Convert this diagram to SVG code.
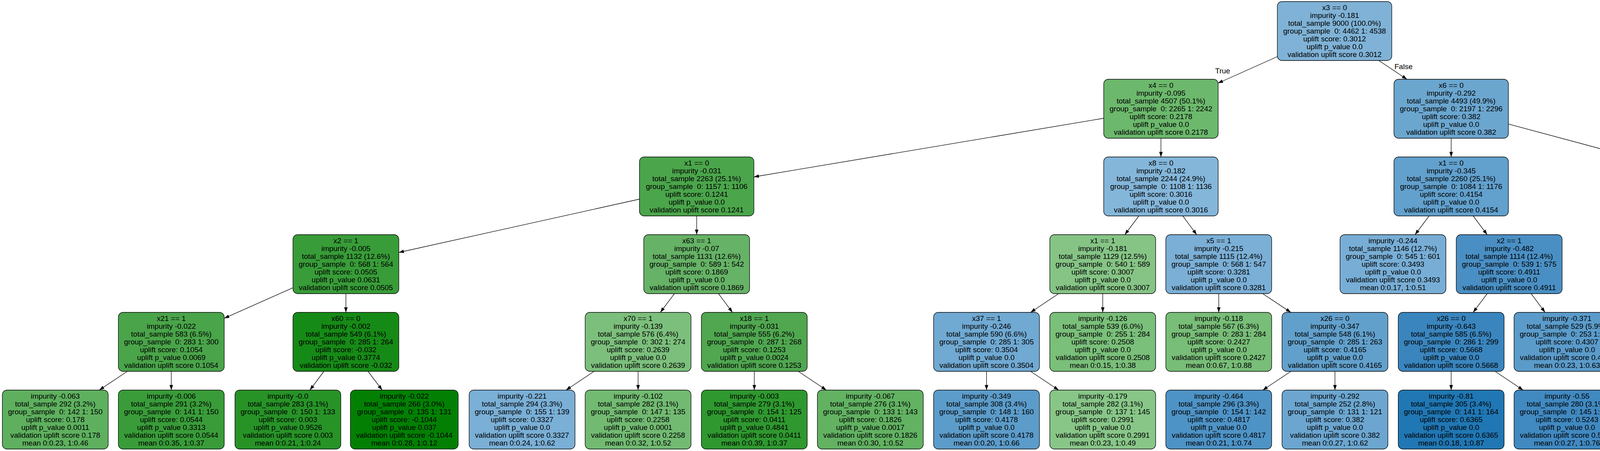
<svg xmlns="http://www.w3.org/2000/svg" width="5343" height="1155" viewBox="0 0 5343 1155">
<defs><marker id="ah" markerUnits="userSpaceOnUse" markerWidth="14" markerHeight="10" refX="13" refY="4.5" orient="auto"><path d="M0,0 L13,4.5 L0,9 Z" fill="#000"/></marker></defs>
<style>
.nd rect{stroke:#000;stroke-width:1.3}
.nd text,.lbl{font-family:"Liberation Sans",Arial,sans-serif;font-size:19px;fill:#000;white-space:pre}
.nd text,.lbl{text-anchor:middle}
.e line{stroke:#000;stroke-width:1.3;marker-end:url(#ah)}
</style>
<rect width="5343" height="1155" fill="#fff"/>
<g id="edges" class="e">
<line x1="3270" y1="145" x2="3118" y2="213"/>
<line x1="3529.7" y1="155" x2="3601.8" y2="203"/>
<line x1="2825" y1="303" x2="1930" y2="453"/>
<line x1="2972" y1="354" x2="2972" y2="402"/>
<line x1="3715" y1="354" x2="3715" y2="402"/>
<line x1="3861.5" y1="317.7" x2="4311.5" y2="438.3"/>
<line x1="1637" y1="510" x2="1021" y2="646.5"/>
<line x1="1783.5" y1="553" x2="1783.5" y2="601"/>
<line x1="2915.5" y1="553" x2="2879.5" y2="601"/>
<line x1="3028" y1="553" x2="3063.5" y2="601"/>
<line x1="3658.5" y1="553" x2="3622.5" y2="601"/>
<line x1="3771.3" y1="553" x2="3807.2" y2="601"/>
<line x1="4458" y1="553" x2="4458" y2="601"/>
<line x1="4604.5" y1="542.8" x2="4769" y2="616.1"/>
<line x1="750" y1="736.8" x2="574" y2="815.2"/>
<line x1="885.5" y1="752" x2="885.5" y2="800"/>
<line x1="1726.6" y1="752" x2="1690.4" y2="800"/>
<line x1="1839.4" y1="752" x2="1875.1" y2="800"/>
<line x1="2710.2" y1="752" x2="2638.3" y2="800"/>
<line x1="2823" y1="752" x2="2823" y2="800"/>
<line x1="3120" y1="752" x2="3120" y2="800"/>
<line x1="3232.4" y1="752" x2="3304.6" y2="800"/>
<line x1="3807.2" y1="752" x2="3771.3" y2="800"/>
<line x1="3919.6" y1="752" x2="3955.4" y2="800"/>
<line x1="4401.6" y1="752" x2="4365.9" y2="800"/>
<line x1="4513.6" y1="752" x2="4549.4" y2="800"/>
<line x1="4904" y1="752" x2="4904" y2="800"/>
<line x1="5017" y1="752" x2="5088.5" y2="800"/>
<line x1="325.9" y1="951" x2="254.1" y2="999"/>
<line x1="438.5" y1="951" x2="438.5" y2="999"/>
<line x1="829.2" y1="951" x2="793.3" y2="999"/>
<line x1="942.2" y1="951" x2="978.3" y2="999"/>
<line x1="1520.9" y1="951" x2="1449.1" y2="999"/>
<line x1="1633.5" y1="951" x2="1633.5" y2="999"/>
<line x1="1931" y1="951" x2="1931" y2="999"/>
<line x1="2043.6" y1="951" x2="2115.4" y2="999"/>
<line x1="2525.5" y1="951" x2="2525.5" y2="999"/>
<line x1="2638.3" y1="951" x2="2710.2" y2="999"/>
<line x1="3304.7" y1="951" x2="3232.8" y2="999"/>
<line x1="3417.5" y1="951" x2="3417.5" y2="999"/>
<line x1="3715" y1="951" x2="3715" y2="999"/>
<line x1="3827.4" y1="951" x2="3899.1" y2="999"/>
<line x1="4493.5" y1="951" x2="4422" y2="999"/>
<line x1="4605.5" y1="951" x2="4605.5" y2="999"/>
<line x1="4904" y1="951" x2="4904" y2="999"/>
<line x1="5016.6" y1="951" x2="5088.4" y2="999"/>
<text class="lbl" x="3130" y="188">True</text>
<text class="lbl" x="3593" y="177">False</text>
</g>
<g id="n0" class="nd" transform="translate(3416.5,4)"><rect x="-146.5" y="0" width="293" height="151" rx="12" fill="#7FB2D6"/><text xml:space="preserve" y="22"><tspan x="0">x3 == 0</tspan><tspan x="0" dy="20">impurity -0.181</tspan><tspan x="0" dy="20">total_sample 9000 (100.0%)</tspan><tspan x="0" dy="20">group_sample  0: 4462 1: 4538</tspan><tspan x="0" dy="20">uplift score: 0.3012</tspan><tspan x="0" dy="20">uplift p_value 0.0</tspan><tspan x="0" dy="20">validation uplift score 0.3012</tspan></text></g>
<g id="n1" class="nd" transform="translate(2972,203)"><rect x="-146.5" y="0" width="293" height="151" rx="12" fill="#6CB86C"/><text xml:space="preserve" y="22"><tspan x="0">x4 == 0</tspan><tspan x="0" dy="20">impurity -0.095</tspan><tspan x="0" dy="20">total_sample 4507 (50.1%)</tspan><tspan x="0" dy="20">group_sample  0: 2265 1: 2242</tspan><tspan x="0" dy="20">uplift score: 0.2178</tspan><tspan x="0" dy="20">uplift p_value 0.0</tspan><tspan x="0" dy="20">validation uplift score 0.2178</tspan></text></g>
<g id="n2" class="nd" transform="translate(3715,203)"><rect x="-146.5" y="0" width="293" height="151" rx="12" fill="#6BA6CF"/><text xml:space="preserve" y="22"><tspan x="0">x6 == 0</tspan><tspan x="0" dy="20">impurity -0.292</tspan><tspan x="0" dy="20">total_sample 4493 (49.9%)</tspan><tspan x="0" dy="20">group_sample  0: 2197 1: 2296</tspan><tspan x="0" dy="20">uplift score: 0.382</tspan><tspan x="0" dy="20">uplift p_value 0.0</tspan><tspan x="0" dy="20">validation uplift score 0.382</tspan></text></g>
<g id="n3" class="nd" transform="translate(1783.5,402)"><rect x="-146.5" y="0" width="293" height="151" rx="12" fill="#4BA54B"/><text xml:space="preserve" y="22"><tspan x="0">x1 == 0</tspan><tspan x="0" dy="20">impurity -0.031</tspan><tspan x="0" dy="20">total_sample 2263 (25.1%)</tspan><tspan x="0" dy="20">group_sample  0: 1157 1: 1106</tspan><tspan x="0" dy="20">uplift score: 0.1241</tspan><tspan x="0" dy="20">uplift p_value 0.0</tspan><tspan x="0" dy="20">validation uplift score 0.1241</tspan></text></g>
<g id="n4" class="nd" transform="translate(2972,402)"><rect x="-146.5" y="0" width="293" height="151" rx="12" fill="#84B6DA"/><text xml:space="preserve" y="22"><tspan x="0">x8 == 0</tspan><tspan x="0" dy="20">impurity -0.182</tspan><tspan x="0" dy="20">total_sample 2244 (24.9%)</tspan><tspan x="0" dy="20">group_sample  0: 1108 1: 1136</tspan><tspan x="0" dy="20">uplift score: 0.3016</tspan><tspan x="0" dy="20">uplift p_value 0.0</tspan><tspan x="0" dy="20">validation uplift score 0.3016</tspan></text></g>
<g id="n5" class="nd" transform="translate(3715,402)"><rect x="-146.5" y="0" width="293" height="151" rx="12" fill="#62A0CD"/><text xml:space="preserve" y="22"><tspan x="0">x1 == 0</tspan><tspan x="0" dy="20">impurity -0.345</tspan><tspan x="0" dy="20">total_sample 2260 (25.1%)</tspan><tspan x="0" dy="20">group_sample  0: 1084 1: 1176</tspan><tspan x="0" dy="20">uplift score: 0.4154</tspan><tspan x="0" dy="20">uplift p_value 0.0</tspan><tspan x="0" dy="20">validation uplift score 0.4154</tspan></text></g>
<g id="n6" class="nd" transform="translate(4458,402)"><rect x="-146.5" y="0" width="293" height="151" rx="12" fill="#72ABD3"/><text xml:space="preserve" y="22"><tspan x="0">x5 == 0</tspan><tspan x="0" dy="20">impurity -0.263</tspan><tspan x="0" dy="20">total_sample 2233 (24.8%)</tspan><tspan x="0" dy="20">group_sample  0: 1113 1: 1120</tspan><tspan x="0" dy="20">uplift score: 0.3623</tspan><tspan x="0" dy="20">uplift p_value 0.0</tspan><tspan x="0" dy="20">validation uplift score 0.3623</tspan></text></g>
<g id="n7" class="nd" transform="translate(885.5,601)"><rect x="-135.5" y="0" width="271" height="151" rx="12" fill="#389C38"/><text xml:space="preserve" y="22"><tspan x="0">x2 == 1</tspan><tspan x="0" dy="20">impurity -0.005</tspan><tspan x="0" dy="20">total_sample 1132 (12.6%)</tspan><tspan x="0" dy="20">group_sample  0: 568 1: 564</tspan><tspan x="0" dy="20">uplift score: 0.0505</tspan><tspan x="0" dy="20">uplift p_value 0.0631</tspan><tspan x="0" dy="20">validation uplift score 0.0505</tspan></text></g>
<g id="n8" class="nd" transform="translate(1783.5,601)"><rect x="-135.5" y="0" width="271" height="151" rx="12" fill="#66B266"/><text xml:space="preserve" y="22"><tspan x="0">x63 == 1</tspan><tspan x="0" dy="20">impurity -0.07</tspan><tspan x="0" dy="20">total_sample 1131 (12.6%)</tspan><tspan x="0" dy="20">group_sample  0: 589 1: 542</tspan><tspan x="0" dy="20">uplift score: 0.1869</tspan><tspan x="0" dy="20">uplift p_value 0.0</tspan><tspan x="0" dy="20">validation uplift score 0.1869</tspan></text></g>
<g id="n9" class="nd" transform="translate(2823,601)"><rect x="-135.5" y="0" width="271" height="151" rx="12" fill="#86C486"/><text xml:space="preserve" y="22"><tspan x="0">x1 == 1</tspan><tspan x="0" dy="20">impurity -0.181</tspan><tspan x="0" dy="20">total_sample 1129 (12.5%)</tspan><tspan x="0" dy="20">group_sample  0: 540 1: 589</tspan><tspan x="0" dy="20">uplift score: 0.3007</tspan><tspan x="0" dy="20">uplift p_value 0.0</tspan><tspan x="0" dy="20">validation uplift score 0.3007</tspan></text></g>
<g id="n10" class="nd" transform="translate(3120,601)"><rect x="-135.5" y="0" width="271" height="151" rx="12" fill="#7BAFD6"/><text xml:space="preserve" y="22"><tspan x="0">x5 == 1</tspan><tspan x="0" dy="20">impurity -0.215</tspan><tspan x="0" dy="20">total_sample 1115 (12.4%)</tspan><tspan x="0" dy="20">group_sample  0: 568 1: 547</tspan><tspan x="0" dy="20">uplift score: 0.3281</tspan><tspan x="0" dy="20">uplift p_value 0.0</tspan><tspan x="0" dy="20">validation uplift score 0.3281</tspan></text></g>
<g id="n11" class="nd" transform="translate(3566,601)"><rect x="-135.5" y="0" width="271" height="151" rx="12" fill="#78AED6"/><text xml:space="preserve" y="22"><tspan x="0">impurity -0.244</tspan><tspan x="0" dy="20">total_sample 1146 (12.7%)</tspan><tspan x="0" dy="20">group_sample  0: 545 1: 601</tspan><tspan x="0" dy="20">uplift score: 0.3493</tspan><tspan x="0" dy="20">uplift p_value 0.0</tspan><tspan x="0" dy="20">validation uplift score 0.3493</tspan><tspan x="0" dy="20">mean 0:0.17, 1:0.51</tspan></text></g>
<g id="n12" class="nd" transform="translate(3863.5,601)"><rect x="-135.5" y="0" width="271" height="151" rx="12" fill="#4A8FC4"/><text xml:space="preserve" y="22"><tspan x="0">x2 == 1</tspan><tspan x="0" dy="20">impurity -0.482</tspan><tspan x="0" dy="20">total_sample 1114 (12.4%)</tspan><tspan x="0" dy="20">group_sample  0: 539 1: 575</tspan><tspan x="0" dy="20">uplift score: 0.4911</tspan><tspan x="0" dy="20">uplift p_value 0.0</tspan><tspan x="0" dy="20">validation uplift score 0.4911</tspan></text></g>
<g id="n13" class="nd" transform="translate(4457.5,601)"><rect x="-135.5" y="0" width="271" height="151" rx="12" fill="#5E9ECC"/><text xml:space="preserve" y="22"><tspan x="0">x36 == 1</tspan><tspan x="0" dy="20">impurity -0.357</tspan><tspan x="0" dy="20">total_sample 1185 (13.2%)</tspan><tspan x="0" dy="20">group_sample  0: 576 1: 609</tspan><tspan x="0" dy="20">uplift score: 0.4225</tspan><tspan x="0" dy="20">uplift p_value 0.0</tspan><tspan x="0" dy="20">validation uplift score 0.4225</tspan></text></g>
<g id="n14" class="nd" transform="translate(4904.5,601)"><rect x="-135.5" y="0" width="271" height="151" rx="12" fill="#82B4D9"/><text xml:space="preserve" y="22"><tspan x="0">x8 == 0</tspan><tspan x="0" dy="20">impurity -0.184</tspan><tspan x="0" dy="20">total_sample 1048 (11.6%)</tspan><tspan x="0" dy="20">group_sample  0: 537 1: 511</tspan><tspan x="0" dy="20">uplift score: 0.303</tspan><tspan x="0" dy="20">uplift p_value 0.0</tspan><tspan x="0" dy="20">validation uplift score 0.303</tspan></text></g>
<g id="n15" class="nd" transform="translate(438.5,800)"><rect x="-135.5" y="0" width="271" height="151" rx="12" fill="#4AA44A"/><text xml:space="preserve" y="22"><tspan x="0">x21 == 1</tspan><tspan x="0" dy="20">impurity -0.022</tspan><tspan x="0" dy="20">total_sample 583 (6.5%)</tspan><tspan x="0" dy="20">group_sample  0: 283 1: 300</tspan><tspan x="0" dy="20">uplift score: 0.1054</tspan><tspan x="0" dy="20">uplift p_value 0.0069</tspan><tspan x="0" dy="20">validation uplift score 0.1054</tspan></text></g>
<g id="n16" class="nd" transform="translate(885.5,800)"><rect x="-135.5" y="0" width="271" height="151" rx="12" fill="#168A16"/><text xml:space="preserve" y="22"><tspan x="0">x60 == 0</tspan><tspan x="0" dy="20">impurity -0.002</tspan><tspan x="0" dy="20">total_sample 549 (6.1%)</tspan><tspan x="0" dy="20">group_sample  0: 285 1: 264</tspan><tspan x="0" dy="20">uplift score: -0.032</tspan><tspan x="0" dy="20">uplift p_value 0.3774</tspan><tspan x="0" dy="20">validation uplift score -0.032</tspan></text></g>
<g id="n17" class="nd" transform="translate(1633.5,800)"><rect x="-135.5" y="0" width="271" height="151" rx="12" fill="#7CBF7C"/><text xml:space="preserve" y="22"><tspan x="0">x70 == 1</tspan><tspan x="0" dy="20">impurity -0.139</tspan><tspan x="0" dy="20">total_sample 576 (6.4%)</tspan><tspan x="0" dy="20">group_sample  0: 302 1: 274</tspan><tspan x="0" dy="20">uplift score: 0.2639</tspan><tspan x="0" dy="20">uplift p_value 0.0</tspan><tspan x="0" dy="20">validation uplift score 0.2639</tspan></text></g>
<g id="n18" class="nd" transform="translate(1931,800)"><rect x="-135.5" y="0" width="271" height="151" rx="12" fill="#50A750"/><text xml:space="preserve" y="22"><tspan x="0">x18 == 1</tspan><tspan x="0" dy="20">impurity -0.031</tspan><tspan x="0" dy="20">total_sample 555 (6.2%)</tspan><tspan x="0" dy="20">group_sample  0: 287 1: 268</tspan><tspan x="0" dy="20">uplift score: 0.1253</tspan><tspan x="0" dy="20">uplift p_value 0.0024</tspan><tspan x="0" dy="20">validation uplift score 0.1253</tspan></text></g>
<g id="n19" class="nd" transform="translate(2525.5,800)"><rect x="-135.5" y="0" width="271" height="151" rx="12" fill="#70A9D2"/><text xml:space="preserve" y="22"><tspan x="0">x37 == 1</tspan><tspan x="0" dy="20">impurity -0.246</tspan><tspan x="0" dy="20">total_sample 590 (6.6%)</tspan><tspan x="0" dy="20">group_sample  0: 285 1: 305</tspan><tspan x="0" dy="20">uplift score: 0.3504</tspan><tspan x="0" dy="20">uplift p_value 0.0</tspan><tspan x="0" dy="20">validation uplift score 0.3504</tspan></text></g>
<g id="n20" class="nd" transform="translate(2823,800)"><rect x="-135.5" y="0" width="271" height="151" rx="12" fill="#7ABF7A"/><text xml:space="preserve" y="22"><tspan x="0">impurity -0.126</tspan><tspan x="0" dy="20">total_sample 539 (6.0%)</tspan><tspan x="0" dy="20">group_sample  0: 255 1: 284</tspan><tspan x="0" dy="20">uplift score: 0.2508</tspan><tspan x="0" dy="20">uplift p_value 0.0</tspan><tspan x="0" dy="20">validation uplift score 0.2508</tspan><tspan x="0" dy="20">mean 0:0.15, 1:0.38</tspan></text></g>
<g id="n21" class="nd" transform="translate(3120,800)"><rect x="-135.5" y="0" width="271" height="151" rx="12" fill="#78BD78"/><text xml:space="preserve" y="22"><tspan x="0">impurity -0.118</tspan><tspan x="0" dy="20">total_sample 567 (6.3%)</tspan><tspan x="0" dy="20">group_sample  0: 283 1: 284</tspan><tspan x="0" dy="20">uplift score: 0.2427</tspan><tspan x="0" dy="20">uplift p_value 0.0</tspan><tspan x="0" dy="20">validation uplift score 0.2427</tspan><tspan x="0" dy="20">mean 0:0.67, 1:0.88</tspan></text></g>
<g id="n22" class="nd" transform="translate(3417.5,800)"><rect x="-135.5" y="0" width="271" height="151" rx="12" fill="#62A0CC"/><text xml:space="preserve" y="22"><tspan x="0">x26 == 0</tspan><tspan x="0" dy="20">impurity -0.347</tspan><tspan x="0" dy="20">total_sample 548 (6.1%)</tspan><tspan x="0" dy="20">group_sample  0: 285 1: 263</tspan><tspan x="0" dy="20">uplift score: 0.4165</tspan><tspan x="0" dy="20">uplift p_value 0.0</tspan><tspan x="0" dy="20">validation uplift score 0.4165</tspan></text></g>
<g id="n23" class="nd" transform="translate(3715,800)"><rect x="-135.5" y="0" width="271" height="151" rx="12" fill="#3A85BE"/><text xml:space="preserve" y="22"><tspan x="0">x26 == 0</tspan><tspan x="0" dy="20">impurity -0.643</tspan><tspan x="0" dy="20">total_sample 585 (6.5%)</tspan><tspan x="0" dy="20">group_sample  0: 286 1: 299</tspan><tspan x="0" dy="20">uplift score: 0.5668</tspan><tspan x="0" dy="20">uplift p_value 0.0</tspan><tspan x="0" dy="20">validation uplift score 0.5668</tspan></text></g>
<g id="n24" class="nd" transform="translate(4011.5,800)"><rect x="-135.5" y="0" width="271" height="151" rx="12" fill="#5B9BCA"/><text xml:space="preserve" y="22"><tspan x="0">impurity -0.371</tspan><tspan x="0" dy="20">total_sample 529 (5.9%)</tspan><tspan x="0" dy="20">group_sample  0: 253 1: 276</tspan><tspan x="0" dy="20">uplift score: 0.4307</tspan><tspan x="0" dy="20">uplift p_value 0.0</tspan><tspan x="0" dy="20">validation uplift score 0.4307</tspan><tspan x="0" dy="20">mean 0:0.23, 1:0.63</tspan></text></g>
<g id="n25" class="nd" transform="translate(4310,800)"><rect x="-135.5" y="0" width="271" height="151" rx="12" fill="#6EA8D2"/><text xml:space="preserve" y="22"><tspan x="0">impurity -0.295</tspan><tspan x="0" dy="20">total_sample 597 (6.6%)</tspan><tspan x="0" dy="20">group_sample  0: 286 1: 311</tspan><tspan x="0" dy="20">uplift score: 0.3843</tspan><tspan x="0" dy="20">uplift p_value 0.0</tspan><tspan x="0" dy="20">validation uplift score 0.3843</tspan><tspan x="0" dy="20">mean 0:0.34, 1:0.71</tspan></text></g>
<g id="n26" class="nd" transform="translate(4605.5,800)"><rect x="-135.5" y="0" width="271" height="151" rx="12" fill="#5194C6"/><text xml:space="preserve" y="22"><tspan x="0">x62 == 0</tspan><tspan x="0" dy="20">impurity -0.456</tspan><tspan x="0" dy="20">total_sample 588 (6.5%)</tspan><tspan x="0" dy="20">group_sample  0: 290 1: 298</tspan><tspan x="0" dy="20">uplift score: 0.4774</tspan><tspan x="0" dy="20">uplift p_value 0.0</tspan><tspan x="0" dy="20">validation uplift score 0.4774</tspan></text></g>
<g id="n27" class="nd" transform="translate(4904,800)"><rect x="-135.5" y="0" width="271" height="151" rx="12" fill="#6AA5CF"/><text xml:space="preserve" y="22"><tspan x="0">x24 == 1</tspan><tspan x="0" dy="20">impurity -0.309</tspan><tspan x="0" dy="20">total_sample 536 (6.0%)</tspan><tspan x="0" dy="20">group_sample  0: 276 1: 260</tspan><tspan x="0" dy="20">uplift score: 0.3929</tspan><tspan x="0" dy="20">uplift p_value 0.0</tspan><tspan x="0" dy="20">validation uplift score 0.3929</tspan></text></g>
<g id="n28" class="nd" transform="translate(5201,800)"><rect x="-135.5" y="0" width="271" height="151" rx="12" fill="#66B366"/><text xml:space="preserve" y="22"><tspan x="0">impurity -0.075</tspan><tspan x="0" dy="20">total_sample 512 (5.7%)</tspan><tspan x="0" dy="20">group_sample  0: 261 1: 251</tspan><tspan x="0" dy="20">uplift score: 0.1935</tspan><tspan x="0" dy="20">uplift p_value 0.0</tspan><tspan x="0" dy="20">validation uplift score 0.1935</tspan><tspan x="0" dy="20">mean 0:0.82, 1:0.97</tspan></text></g>
<g id="n29" class="nd" transform="translate(141.5,999)"><rect x="-135.5" y="0" width="271" height="151" rx="12" fill="#5EB05E"/><text xml:space="preserve" y="22"><tspan x="0">impurity -0.063</tspan><tspan x="0" dy="20">total_sample 292 (3.2%)</tspan><tspan x="0" dy="20">group_sample  0: 142 1: 150</tspan><tspan x="0" dy="20">uplift score: 0.178</tspan><tspan x="0" dy="20">uplift p_value 0.0011</tspan><tspan x="0" dy="20">validation uplift score 0.178</tspan><tspan x="0" dy="20">mean 0:0.23, 1:0.46</tspan></text></g>
<g id="n30" class="nd" transform="translate(438.5,999)"><rect x="-135.5" y="0" width="271" height="151" rx="12" fill="#399C39"/><text xml:space="preserve" y="22"><tspan x="0">impurity -0.006</tspan><tspan x="0" dy="20">total_sample 291 (3.2%)</tspan><tspan x="0" dy="20">group_sample  0: 141 1: 150</tspan><tspan x="0" dy="20">uplift score: 0.0544</tspan><tspan x="0" dy="20">uplift p_value 0.3313</tspan><tspan x="0" dy="20">validation uplift score 0.0544</tspan><tspan x="0" dy="20">mean 0:0.35, 1:0.37</tspan></text></g>
<g id="n31" class="nd" transform="translate(737,999)"><rect x="-135.5" y="0" width="271" height="151" rx="12" fill="#279327"/><text xml:space="preserve" y="22"><tspan x="0">impurity -0.0</tspan><tspan x="0" dy="20">total_sample 283 (3.1%)</tspan><tspan x="0" dy="20">group_sample  0: 150 1: 133</tspan><tspan x="0" dy="20">uplift score: 0.003</tspan><tspan x="0" dy="20">uplift p_value 0.9526</tspan><tspan x="0" dy="20">validation uplift score 0.003</tspan><tspan x="0" dy="20">mean 0:0.21, 1:0.24</tspan></text></g>
<g id="n32" class="nd" transform="translate(1035,999)"><rect x="-138" y="0" width="276" height="151" rx="12" fill="#038003"/><text xml:space="preserve" y="22"><tspan x="0">impurity -0.022</tspan><tspan x="0" dy="20">total_sample 266 (3.0%)</tspan><tspan x="0" dy="20">group_sample  0: 135 1: 131</tspan><tspan x="0" dy="20">uplift score: -0.1044</tspan><tspan x="0" dy="20">uplift p_value 0.037</tspan><tspan x="0" dy="20">validation uplift score -0.1044</tspan><tspan x="0" dy="20">mean 0:0.28, 1:0.12</tspan></text></g>
<g id="n33" class="nd" transform="translate(1336.5,999)"><rect x="-135.5" y="0" width="271" height="151" rx="12" fill="#7AAFD6"/><text xml:space="preserve" y="22"><tspan x="0">impurity -0.221</tspan><tspan x="0" dy="20">total_sample 294 (3.3%)</tspan><tspan x="0" dy="20">group_sample  0: 155 1: 139</tspan><tspan x="0" dy="20">uplift score: 0.3327</tspan><tspan x="0" dy="20">uplift p_value 0.0</tspan><tspan x="0" dy="20">validation uplift score 0.3327</tspan><tspan x="0" dy="20">mean 0:0.24, 1:0.62</tspan></text></g>
<g id="n34" class="nd" transform="translate(1633.5,999)"><rect x="-135.5" y="0" width="271" height="151" rx="12" fill="#72BA72"/><text xml:space="preserve" y="22"><tspan x="0">impurity -0.102</tspan><tspan x="0" dy="20">total_sample 282 (3.1%)</tspan><tspan x="0" dy="20">group_sample  0: 147 1: 135</tspan><tspan x="0" dy="20">uplift score: 0.2258</tspan><tspan x="0" dy="20">uplift p_value 0.0001</tspan><tspan x="0" dy="20">validation uplift score 0.2258</tspan><tspan x="0" dy="20">mean 0:0.32, 1:0.52</tspan></text></g>
<g id="n35" class="nd" transform="translate(1931,999)"><rect x="-135.5" y="0" width="271" height="151" rx="12" fill="#2F982F"/><text xml:space="preserve" y="22"><tspan x="0">impurity -0.003</tspan><tspan x="0" dy="20">total_sample 279 (3.1%)</tspan><tspan x="0" dy="20">group_sample  0: 154 1: 125</tspan><tspan x="0" dy="20">uplift score: 0.0411</tspan><tspan x="0" dy="20">uplift p_value 0.4841</tspan><tspan x="0" dy="20">validation uplift score 0.0411</tspan><tspan x="0" dy="20">mean 0:0.39, 1:0.37</tspan></text></g>
<g id="n36" class="nd" transform="translate(2228,999)"><rect x="-135.5" y="0" width="271" height="151" rx="12" fill="#62B262"/><text xml:space="preserve" y="22"><tspan x="0">impurity -0.067</tspan><tspan x="0" dy="20">total_sample 276 (3.1%)</tspan><tspan x="0" dy="20">group_sample  0: 133 1: 143</tspan><tspan x="0" dy="20">uplift score: 0.1826</tspan><tspan x="0" dy="20">uplift p_value 0.0017</tspan><tspan x="0" dy="20">validation uplift score 0.1826</tspan><tspan x="0" dy="20">mean 0:0.30, 1:0.52</tspan></text></g>
<g id="n37" class="nd" transform="translate(2525.5,999)"><rect x="-135.5" y="0" width="271" height="151" rx="12" fill="#5C9CCA"/><text xml:space="preserve" y="22"><tspan x="0">impurity -0.349</tspan><tspan x="0" dy="20">total_sample 308 (3.4%)</tspan><tspan x="0" dy="20">group_sample  0: 148 1: 160</tspan><tspan x="0" dy="20">uplift score: 0.4178</tspan><tspan x="0" dy="20">uplift p_value 0.0</tspan><tspan x="0" dy="20">validation uplift score 0.4178</tspan><tspan x="0" dy="20">mean 0:0.20, 1:0.66</tspan></text></g>
<g id="n38" class="nd" transform="translate(2823,999)"><rect x="-135.5" y="0" width="271" height="151" rx="12" fill="#88C688"/><text xml:space="preserve" y="22"><tspan x="0">impurity -0.179</tspan><tspan x="0" dy="20">total_sample 282 (3.1%)</tspan><tspan x="0" dy="20">group_sample  0: 137 1: 145</tspan><tspan x="0" dy="20">uplift score: 0.2991</tspan><tspan x="0" dy="20">uplift p_value 0.0</tspan><tspan x="0" dy="20">validation uplift score 0.2991</tspan><tspan x="0" dy="20">mean 0:0.23, 1:0.49</tspan></text></g>
<g id="n39" class="nd" transform="translate(3120,999)"><rect x="-135.5" y="0" width="271" height="151" rx="12" fill="#4E93C6"/><text xml:space="preserve" y="22"><tspan x="0">impurity -0.464</tspan><tspan x="0" dy="20">total_sample 296 (3.3%)</tspan><tspan x="0" dy="20">group_sample  0: 154 1: 142</tspan><tspan x="0" dy="20">uplift score: 0.4817</tspan><tspan x="0" dy="20">uplift p_value 0.0</tspan><tspan x="0" dy="20">validation uplift score 0.4817</tspan><tspan x="0" dy="20">mean 0:0.21, 1:0.74</tspan></text></g>
<g id="n40" class="nd" transform="translate(3417.5,999)"><rect x="-135.5" y="0" width="271" height="151" rx="12" fill="#6CA6D0"/><text xml:space="preserve" y="22"><tspan x="0">impurity -0.292</tspan><tspan x="0" dy="20">total_sample 252 (2.8%)</tspan><tspan x="0" dy="20">group_sample  0: 131 1: 121</tspan><tspan x="0" dy="20">uplift score: 0.382</tspan><tspan x="0" dy="20">uplift p_value 0.0</tspan><tspan x="0" dy="20">validation uplift score 0.382</tspan><tspan x="0" dy="20">mean 0:0.27, 1:0.62</tspan></text></g>
<g id="n41" class="nd" transform="translate(3715,999)"><rect x="-135.5" y="0" width="271" height="151" rx="12" fill="#2077B4"/><text xml:space="preserve" y="22"><tspan x="0">impurity -0.81</tspan><tspan x="0" dy="20">total_sample 305 (3.4%)</tspan><tspan x="0" dy="20">group_sample  0: 141 1: 164</tspan><tspan x="0" dy="20">uplift score: 0.6365</tspan><tspan x="0" dy="20">uplift p_value 0.0</tspan><tspan x="0" dy="20">validation uplift score 0.6365</tspan><tspan x="0" dy="20">mean 0:0.18, 1:0.87</tspan></text></g>
<g id="n42" class="nd" transform="translate(4011.5,999)"><rect x="-135.5" y="0" width="271" height="151" rx="12" fill="#4189C1"/><text xml:space="preserve" y="22"><tspan x="0">impurity -0.55</tspan><tspan x="0" dy="20">total_sample 280 (3.1%)</tspan><tspan x="0" dy="20">group_sample  0: 145 1: 135</tspan><tspan x="0" dy="20">uplift score: 0.5243</tspan><tspan x="0" dy="20">uplift p_value 0.0</tspan><tspan x="0" dy="20">validation uplift score 0.5243</tspan><tspan x="0" dy="20">mean 0:0.27, 1:0.76</tspan></text></g>
<g id="n43" class="nd" transform="translate(4310,999)"><rect x="-135.5" y="0" width="271" height="151" rx="12" fill="#4990C5"/><text xml:space="preserve" y="22"><tspan x="0">impurity -0.499</tspan><tspan x="0" dy="20">total_sample 327 (3.6%)</tspan><tspan x="0" dy="20">group_sample  0: 168 1: 159</tspan><tspan x="0" dy="20">uplift score: 0.4993</tspan><tspan x="0" dy="20">uplift p_value 0.0</tspan><tspan x="0" dy="20">validation uplift score 0.4993</tspan><tspan x="0" dy="20">mean 0:0.29, 1:0.81</tspan></text></g>
<g id="n44" class="nd" transform="translate(4605.5,999)"><rect x="-135.5" y="0" width="271" height="151" rx="12" fill="#5094C6"/><text xml:space="preserve" y="22"><tspan x="0">impurity -0.459</tspan><tspan x="0" dy="20">total_sample 261 (2.9%)</tspan><tspan x="0" dy="20">group_sample  0: 122 1: 139</tspan><tspan x="0" dy="20">uplift score: 0.4789</tspan><tspan x="0" dy="20">uplift p_value 0.0</tspan><tspan x="0" dy="20">validation uplift score 0.4789</tspan><tspan x="0" dy="20">mean 0:0.23, 1:0.71</tspan></text></g>
<g id="n45" class="nd" transform="translate(4904,999)"><rect x="-135.5" y="0" width="271" height="151" rx="12" fill="#5094C6"/><text xml:space="preserve" y="22"><tspan x="0">impurity -0.458</tspan><tspan x="0" dy="20">total_sample 292 (3.2%)</tspan><tspan x="0" dy="20">group_sample  0: 153 1: 139</tspan><tspan x="0" dy="20">uplift score: 0.4787</tspan><tspan x="0" dy="20">uplift p_value 0.0</tspan><tspan x="0" dy="20">validation uplift score 0.4787</tspan><tspan x="0" dy="20">mean 0:0.39, 1:0.93</tspan></text></g>
<g id="n46" class="nd" transform="translate(5201,999)"><rect x="-135.5" y="0" width="271" height="151" rx="12" fill="#7AAFD6"/><text xml:space="preserve" y="22"><tspan x="0">impurity -0.226</tspan><tspan x="0" dy="20">total_sample 244 (2.7%)</tspan><tspan x="0" dy="20">group_sample  0: 123 1: 121</tspan><tspan x="0" dy="20">uplift score: 0.3365</tspan><tspan x="0" dy="20">uplift p_value 0.0</tspan><tspan x="0" dy="20">validation uplift score 0.3365</tspan><tspan x="0" dy="20">mean 0:0.57, 1:0.86</tspan></text></g>
</svg>
